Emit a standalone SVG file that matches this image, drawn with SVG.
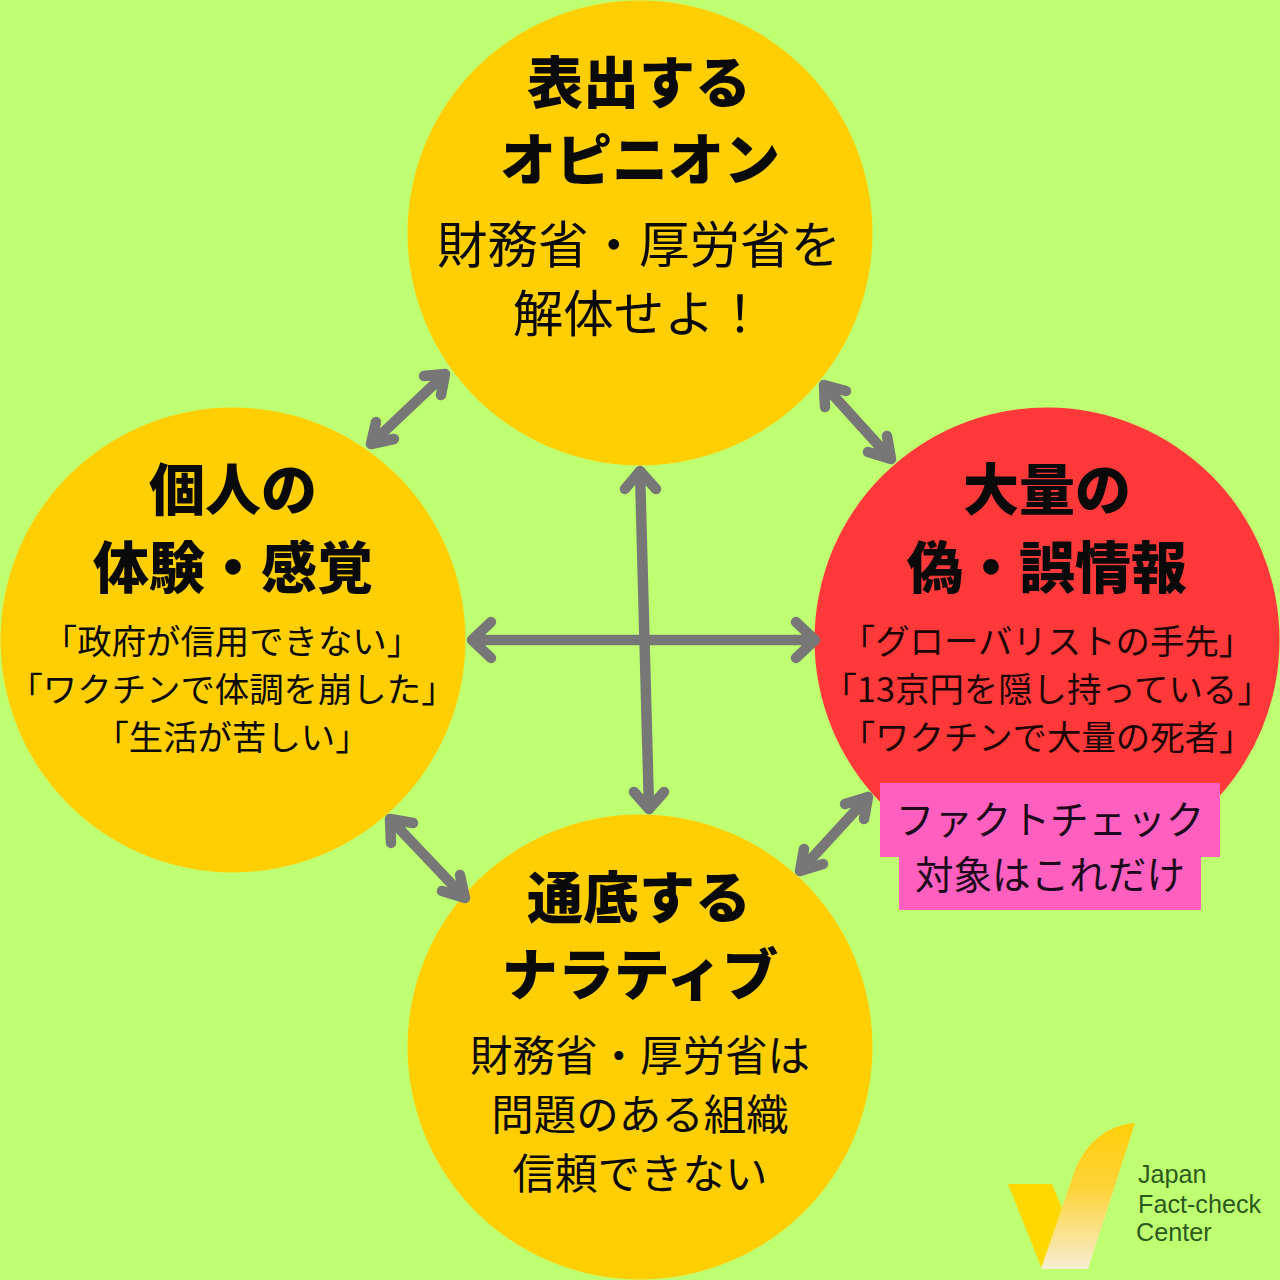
<svg xmlns="http://www.w3.org/2000/svg" width="1280" height="1280" viewBox="0 0 1280 1280">
<style>
text{font-family:"Noto Sans CJK JP","Noto Sans",sans-serif;text-anchor:middle;fill:#0a0a0a}
.t{font-size:56px;font-weight:900}
.s{font-size:50.500px;font-weight:400}
.m{font-size:34.400px;font-weight:400}
.b{font-size:42.500px;font-weight:400}
.p{font-size:38.600px;font-weight:400;fill:#1c0a1c}
.r{fill:#1e0505}
.l{font-family:"Liberation Sans",Arial,sans-serif;font-size:25.200px;text-anchor:start;fill:#2a5a1c}
.a{fill:none;stroke:#777;stroke-width:10.500;stroke-linecap:round;stroke-linejoin:round}
</style>
<defs>
<linearGradient id="g" x1="0" y1="0" x2="0" y2="1"><stop offset="0" stop-color="#ffcf0a"/><stop offset="0.45" stop-color="#fed33a"/><stop offset="1" stop-color="#f7eed2"/></linearGradient>
</defs>
<rect width="1280" height="1280" fill="#bfff72"/>
<g id="node-top"><circle cx="640" cy="233" r="232.500" fill="#ffcf03"/>
<text class="t" x="639" y="103">表出する</text><text class="t" x="640" y="180">オピニオン</text>
<text class="s" x="639" y="263">財務省・厚労省を</text><text class="s" x="639" y="332">解体せよ！</text></g>
<g id="node-left"><circle cx="233" cy="640" r="232.500" fill="#ffcf03"/>
<text class="t" x="233" y="510">個人の</text><text class="t" x="233" y="588">体験・感覚</text>
<text class="m" x="232" y="654">「政府が信用できない」</text><text class="m" x="232" y="702">「ワクチンで体調を崩した」</text><text class="m" x="232" y="750">「生活が苦しい」</text></g>
<g id="node-right"><circle cx="1047" cy="640" r="232.500" fill="#ff3939"/>
<text class="t" x="1047" y="510">大量の</text><text class="t" x="1047" y="588">偽・誤情報</text>
<text class="m r" x="1047" y="654">「グローバリストの手先」</text><text class="m r" x="1047" y="702">「13京円を隠し持っている」</text><text class="m r" x="1047" y="750">「ワクチンで大量の死者」</text></g>
<g id="node-bottom"><circle cx="640" cy="1047" r="232.500" fill="#ffcf03"/>
<text class="t" x="639" y="918">通底する</text><text class="t" x="640" y="995">ナラティブ</text>
<text class="b" x="640" y="1071">財務省・厚労省は</text><text class="b" x="640" y="1130">問題のある組織</text><text class="b" x="640" y="1189">信頼できない</text></g>
<g id="node-note"><rect x="880" y="783" width="340" height="74" fill="#ff5fbf"/><rect x="899" y="856" width="302" height="54" fill="#ff5fbf"/>
<text class="p" x="1050" y="834">ファクトチェック</text><text class="p" x="1050" y="889">対象はこれだけ</text></g>
<g id="connectors">
<path class="a" d="M472 640H815M491 622 472 640 491 658M796 622 815 640 796 658"/>
<path class="a" d="M640 471 649 809M625 489 640 471 656 489M634 792 649 809 664 792"/>
<path class="a" d="M445 374 371 444M424 376 445 374 441 395M376 422 371 444 394 439"/>
<path class="a" d="M824 385 891 459M825 407 824 385 846 391M887 436 891 459 868 452"/>
<path class="a" d="M868 797 800 871M845 804 868 797 864 819M804 849 800 871 823 864"/>
<path class="a" d="M390 819 465 898M391 843 390 819 413 823M460 875 465 898 442 891"/>
</g>
<g id="logo">
<path d="M1008 1184H1052L1062 1208L1042 1269Z" fill="#ffd800"/>
<path d="M1041 1269L1075 1170C1086 1142 1108 1125 1135 1123L1088 1269Z" fill="url(#g)"/>
<text class="l" x="1138" y="1183">Japan</text><text class="l" x="1138" y="1213">Fact-check</text><text class="l" x="1136" y="1241">Center</text>
</g>
</svg>
